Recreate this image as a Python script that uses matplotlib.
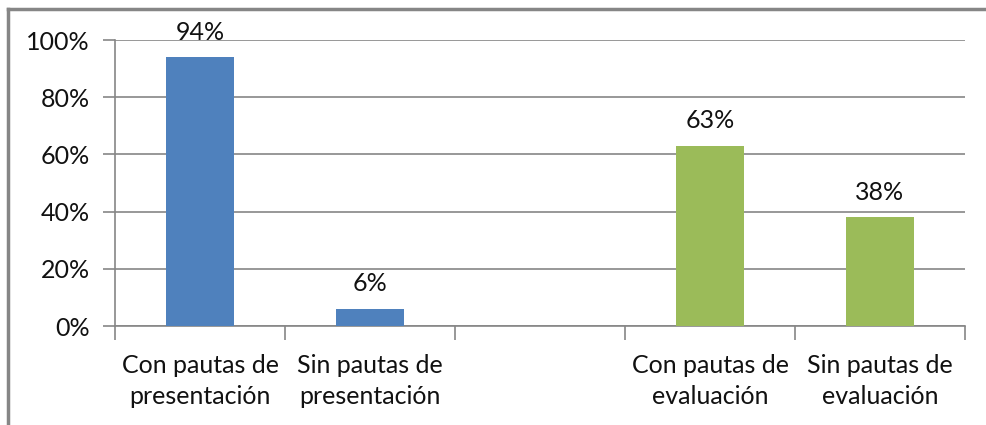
import matplotlib
matplotlib.use("Agg")
import matplotlib.pyplot as plt
from matplotlib.lines import Line2D
import numpy as np

categories = ["Con pautas de\npresentación", "Sin pautas de\npresentación", "",
              "Con pautas de\nevaluación", "Sin pautas de\nevaluación"]
values = [0.94, 0.06, None, 0.63, 0.38]
labels = ["94%", "6%", "", "63%", "38%"]
colors = ["#4F81BD", "#4F81BD", "#FFFFFF", "#9BBB59", "#9BBB59"]
yticks = [0, 0.2, 0.4, 0.6, 0.8, 1.0]
ytick_labels = ["0%", "20%", "40%", "60%", "80%", "100%"]

plt.rcParams['font.family'] = ['Lato', 'DejaVu Sans']
GRID = "#868686"
TXT = "#111111"

fig = plt.figure(figsize=(9.86, 4.25), dpi=100)
ax = fig.add_axes([115 / 986, 1 - 326 / 425, 850 / 986, 286 / 425])

x = np.arange(len(categories))
for i, v in enumerate(values):
    if v is None:
        continue
    ax.bar(x[i], v, width=0.4, color=colors[i], zorder=3)
    ax.annotate(labels[i], (x[i], v), xytext=(0, 18), textcoords="offset points",
                ha="center", va="center", fontsize=18, color=TXT)

ax.set_xlim(-0.5, len(categories) - 0.5)
ax.set_ylim(0, 1.0)
ax.set_yticks(yticks)
ax.set_yticklabels(ytick_labels, fontsize=18, color=TXT)
ax.set_xticks(np.append(x - 0.5, len(categories) - 0.5))
ax.set_xticklabels([])
ax.set_xticks(x, minor=True)
ax.set_xticklabels(categories, minor=True, fontsize=18, linespacing=1.45, color=TXT)
ax.tick_params(axis="x", which="major", length=10, color=GRID, width=1.2)
ax.tick_params(axis="x", which="minor", length=0, pad=20)
ax.tick_params(axis="y", length=9, color=GRID, width=1.2, pad=9)

ax.grid(axis="y", color=GRID, linewidth=1.2, zorder=0)
for s in ["top", "right"]:
    ax.spines[s].set_visible(False)
ax.spines["left"].set_color(GRID)
ax.spines["bottom"].set_color(GRID)
ax.spines["left"].set_linewidth(1.2)
ax.spines["bottom"].set_linewidth(1.2)

# outer frame (top and left)
fig.add_artist(Line2D([8 / 986, 1.0], [1 - 9 / 425, 1 - 9 / 425],
                      transform=fig.transFigure, color=GRID, linewidth=2.5))
fig.add_artist(Line2D([8 / 986, 8 / 986], [0, 1 - 9 / 425],
                      transform=fig.transFigure, color=GRID, linewidth=2.5))

plt.savefig("out.png", dpi=100)
plt.close()
